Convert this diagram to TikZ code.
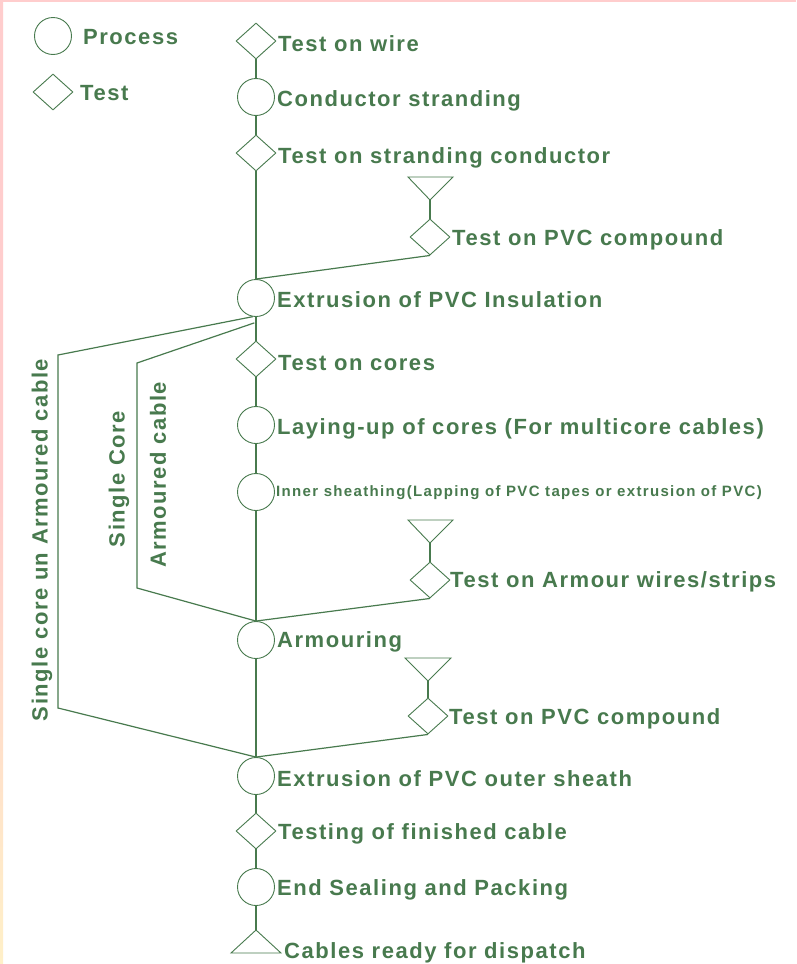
\documentclass[tikz,border=0pt]{standalone}
\usepackage{fontspec}
\usetikzlibrary{shapes.geometric}
\newfontfamily\lblfont[LetterSpace=7.0]{Liberation Sans}
\newfontfamily\slblfont[LetterSpace=9.0]{Liberation Sans}
\definecolor{grn}{RGB}{72,122,78}
\definecolor{pinkb}{RGB}{255,205,205}
\definecolor{yelb}{RGB}{255,240,200}
\begin{document}
\begin{tikzpicture}[x=1pt,y=-1pt,
  proc/.style={circle,draw=grn,line width=0.9pt,fill=white,minimum size=37pt,inner sep=0pt},
  tst/.style={diamond,draw=grn,line width=0.9pt,fill=white,minimum width=40pt,minimum height=36pt,inner sep=0pt},
  lbl/.style={anchor=west,inner sep=0pt,text=grn,font=\lblfont\bfseries\fontsize{22}{26}\selectfont},
  slbl/.style={anchor=west,inner sep=0pt,text=grn,font=\slblfont\bfseries\fontsize{15}{18}\selectfont},
  vlbl/.style={inner sep=0pt,text=grn,rotate=90,font=\lblfont\bfseries\fontsize{22}{26}\selectfont},
  con/.style={draw=grn,line width=1.2pt},
  tri/.style={draw=grn,line width=0.9pt,fill=white,line join=miter}]
\useasboundingbox (0,0) rectangle (796,964);
\fill[white] (0,0) rectangle (796,964);
\shade[top color=pinkb,bottom color=yelb,middle color=pinkb] (0,0) rectangle (3,964);
\fill[pinkb] (0,0) rectangle (796,2);
% legend
\node[proc] (lp) at (53,36) {};
\node[lbl] (lpt) at (83,37) {Process};
\node[tst] (lt) at (53,92) {};
\node[lbl] (ltt) at (80,93) {Test};
% main column
\node[tst] (t1) at (256,41) {};
\node[proc] (p1) at (256,97) {};
\node[tst] (t2) at (256,153) {};
\node[proc] (p2) at (256,298) {};
\node[tst] (t3) at (256,359) {};
\node[proc] (p3) at (256,425) {};
\node[proc] (p4) at (256,492) {};
\node[proc] (p5) at (256,640) {};
\node[proc] (p6) at (256,776) {};
\node[tst] (t4) at (256,831) {};
\node[proc] (p7) at (256,887) {};
% side tests
\node[tst] (s1) at (430,237) {};
\node[tst] (s2) at (430,580) {};
\node[tst] (s3) at (428,716) {};
% triangles (inverted)
\coordinate (a1) at (430,200);
\coordinate (a2) at (430,543);
\coordinate (a3) at (428,681);
\draw[tri] (408,177) -- (453,177) -- (a1) -- cycle;
\draw[tri] (408,520) -- (453,520) -- (a2) -- cycle;
\draw[tri] (405,658) -- (451,658) -- (a3) -- cycle;
% final triangle
\coordinate (a4) at (256,930);
\draw[tri] (a4) -- (281,953) -- (231,953) -- cycle;
% connectors main
\draw[con] (t1.south) -- (p1.north);
\draw[con] (p1.south) -- (t2.north);
\draw[con] (t2.south) -- (p2.north);
\draw[con] (p2.south) -- (t3.north);
\draw[con] (t3.south) -- (p3.north);
\draw[con] (p3.south) -- (p4.north);
\draw[con] (p4.south) -- (p5.north);
\draw[con] (p5.south) -- (p6.north);
\draw[con] (p6.south) -- (t4.north);
\draw[con] (t4.south) -- (p7.north);
\draw[con] (p7.south) -- (a4);
% side connectors
\draw[con] (a1) -- (s1.north);
\draw[con] (s1.south) -- (p2.north);
\draw[con] (a2) -- (s2.north);
\draw[con] (s2.south) -- (p5.north);
\draw[con] (a3) -- (s3.north);
\draw[con] (s3.south) -- (p6.north);
% bypass branches
\coordinate (b1) at (58,355);
\coordinate (b2) at (58,708);
\coordinate (c1) at (137,363);
\coordinate (c2) at (137,588);
\draw[con] (p2.-100) -- (b1) -- (b2) -- (p6.north);
\draw[con] (p2.-95) ++(0,6) -- (c1) -- (c2) -- (p5.north);
% labels
\node[lbl] at (278,44) {Test on wire};
\node[lbl] at (277,101) {Conductor stranding};
\node[lbl] at (278,158) {Test on stranding conductor};
\node[lbl] at (452,240) {Test on PVC compound};
\node[lbl] at (277,300) {Extrusion of PVC Insulation};
\node[lbl] at (278,363) {Test on cores};
\node[lbl] at (277,429) {Laying-up of cores (For multicore cables)};
\node[slbl] at (276,493) {Inner sheathing(Lapping of PVC tapes or extrusion of PVC)};
\node[lbl] at (450,582) {Test on Armour wires/strips};
\node[lbl] at (277,642) {Armouring};
\node[lbl] at (449,719) {Test on PVC compound};
\node[lbl] at (277,779) {Extrusion of PVC outer sheath};
\node[lbl] at (278,834) {Testing of finished cable};
\node[lbl] at (277,890) {End Sealing and Packing};
\node[lbl] at (284,953) {Cables ready for dispatch};
\node[vlbl] at (42,540) {Single core un Armoured cable};
\node[vlbl] at (119,479) {Single Core};
\node[vlbl] at (158,475) {Armoured cable};
\end{tikzpicture}
\end{document}
